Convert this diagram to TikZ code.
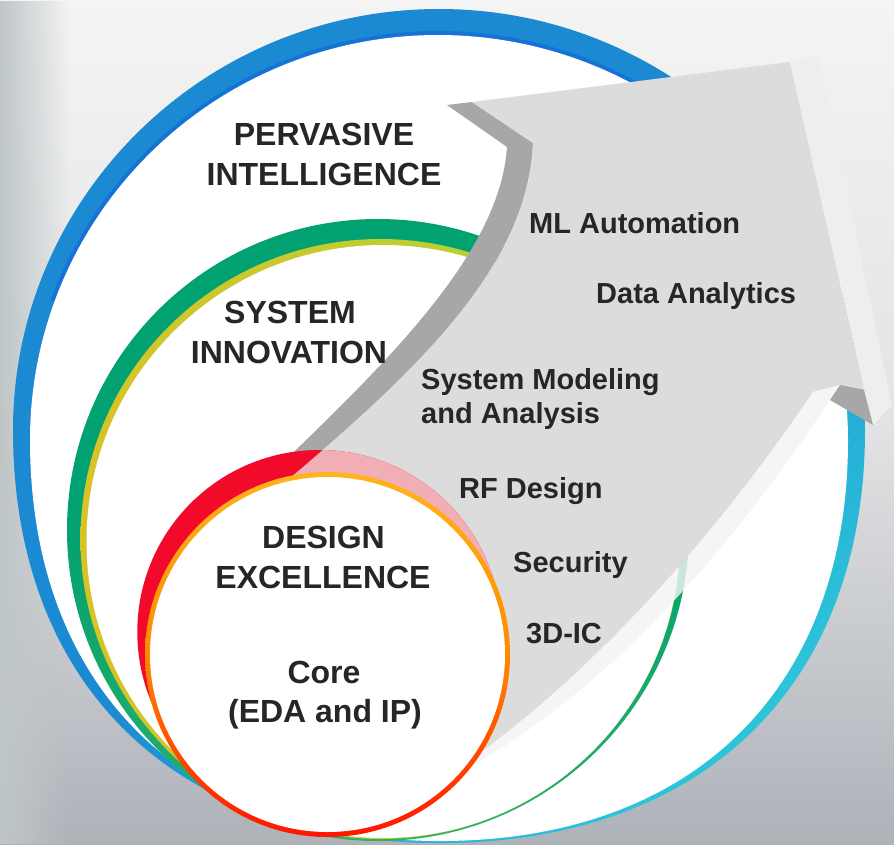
\documentclass[tikz,border=0pt]{standalone}
\usepackage{fontspec}
\setmainfont{Liberation Sans}
\usetikzlibrary{fadings}
\definecolor{bgtop}{HTML}{F4F4F4}
\definecolor{bgmid}{HTML}{E2E3E4}
\definecolor{bgbot}{HTML}{AEB2B9}
\definecolor{bgleft}{HTML}{BFC6C8}
\definecolor{ringblue}{HTML}{1C8AD2}
\definecolor{ringdark}{HTML}{1672D6}
\definecolor{ringcyan}{HTML}{2CC4D9}
\definecolor{ggreen}{HTML}{02A171}
\definecolor{gline}{HTML}{2DB067}
\definecolor{glime}{HTML}{A9D53C}
\definecolor{gyellow}{HTML}{D8C326}
\definecolor{redc}{HTML}{F10A29}
\definecolor{pinkc}{HTML}{F2AEB5}
\definecolor{oyellow}{HTML}{FFB41C}
\definecolor{oorange}{HTML}{FF8A00}
\definecolor{ored}{HTML}{FF1500}
\definecolor{facec}{HTML}{DCDCDC}
\definecolor{bandc}{HTML}{A7A7A7}
\definecolor{stripec}{HTML}{EEEEEE}
\definecolor{stripeb}{HTML}{F4F4F4}
\definecolor{txt}{HTML}{262626}
\tikzset{
  head/.style={inner sep=0pt, text=txt, font=\fontsize{32}{38}\selectfont\bfseries, anchor=base},
  item/.style={inner sep=0pt, text=txt, font=\fontsize{29}{34}\selectfont\bfseries, anchor=base west},
}
\begin{document}
\begin{tikzpicture}[x=1pt,y=-1pt]
\useasboundingbox (0,0) rectangle (894,844);
% background
\shade[top color=bgtop, bottom color=bgbot, middle color=bgmid] (0,0) rectangle (894,844);
\fill[bgleft, path fading=east] (0,0) rectangle (70,844);
% blue ring (outer shape, slightly fuller at the bottom)
\shade[top color=ringblue, bottom color=ringcyan, middle color=ringblue, shading angle=40]
  (13,430) .. controls (13,197.6) and (203.8,9) .. (439,9)
  .. controls (674.2,9) and (865,197.6) .. (865,430)
  .. controls (865,686) and (703.5,843) .. (440,843)
  .. controls (175.3,843) and (13,686) .. (13,430) -- cycle;
% darker inner edge at the top
\begin{scope}
\clip (0,0) rectangle (894,300);
\fill[ringdark] (26,440) .. controls (26,214) and (211,31) .. (438,31)
  .. controls (665,31) and (852,214) .. (852,440) -- cycle;
\end{scope}
\fill[white] (30,440) .. controls (30,216.4) and (212.8,35) .. (438,35)
  .. controls (663.2,35) and (848,216.4) .. (848,440)
  .. controls (848,688.6) and (693,841) .. (440,841)
  .. controls (185.8,841) and (30,688.6) .. (30,440) -- cycle;
% green ring
\shade[top color=ggreen, bottom color=gline, middle color=ggreen] (378,530) circle (311pt);
\shade[left color=gyellow, right color=glime] (380.5,539) circle (300pt);
\fill[white] (383,541.5) circle (296.5pt);
% arrow: dark left band
\fill[bandc] (275,470) .. controls (395,355) and (500,250) .. (507,147) -- (447,105) -- (472,102)
  -- (533,143) .. controls (528,260) and (430,360) .. (290,478) -- cycle;
% arrow face
\fill[facec] (533,143) -- (472,102) -- (790,62) -- (864,390) -- (840,385) -- (813,392)
  .. controls (730,515) and (610,660) .. (470,760) -- (290,478)
  .. controls (430,360) and (528,260) .. (533,143) -- cycle;
% head right light side
\fill[stripec] (790,62) -- (818,55) -- (892,405) -- (873,425) -- (864,390) -- cycle;
% shaft right light side
\fill[stripeb, opacity=0.82] (813,392) -- (840,385) -- (830,400)
  .. controls (740,535) and (615,690) .. (455,775) -- (470,760)
  .. controls (610,660) and (730,515) .. (813,392) -- cycle;
% right barb underside
\fill[bandc] (840,385) -- (864,390) -- (873,425) -- (830,400) -- cycle;
% red crescent
\fill[redc] (319.3,632) circle (182pt);
\begin{scope}
\clip (533,143) -- (472,102) -- (790,62) -- (864,390) -- (840,385) -- (813,392)
  .. controls (730,515) and (610,660) .. (470,760) -- (290,478)
  .. controls (430,360) and (528,260) .. (533,143) -- cycle;
\fill[pinkc] (319.3,632) circle (182pt);
\end{scope}
% core
\shade[top color=oyellow, bottom color=ored, middle color=oorange] (327.5,654.5) circle (182.5pt);
\fill[white] (327.5,654.5) circle (177.5pt);
% texts
\node[head] (pi1) at (324,145) {PERVASIVE};
\node[head] (pi2) at (324,185) {INTELLIGENCE};
\node[head] (si1) at (290,323) {SYSTEM};
\node[head] (si2) at (289,363) {INNOVATION};
\node[head] (de1) at (323.5,548) {DESIGN};
\node[head] (de2) at (323,588) {EXCELLENCE};
\node[head] (co1) at (324,683) {Core};
\node[head] (co2) at (325,722) {(EDA and IP)};
\node[item] (ml) at (529,233) {ML Automation};
\node[item] (da) at (596,303) {Data Analytics};
\node[item] (sm1) at (421,389) {System Modeling};
\node[item] (sm2) at (421,423) {and Analysis};
\node[item] (rf) at (459,498) {RF Design};
\node[item] (sec) at (513,572) {Security};
\node[item] (ic) at (526,643) {3D-IC};
\end{tikzpicture}
\end{document}
